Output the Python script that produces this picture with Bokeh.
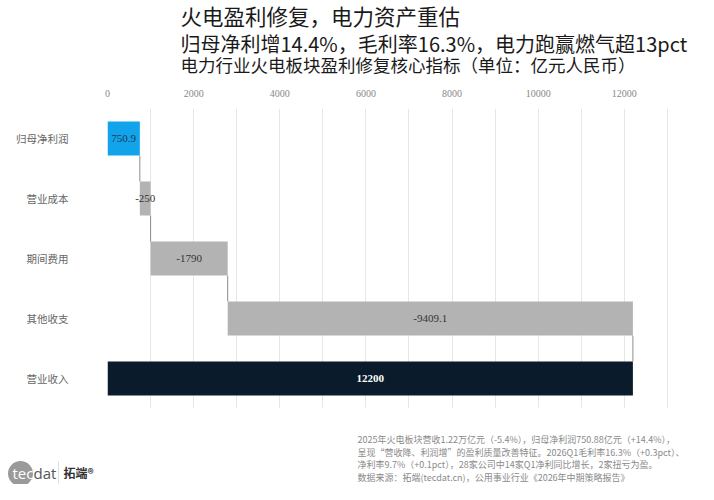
from bokeh.plotting import figure
from bokeh.layouts import column
from bokeh.models import (FactorRange, Range1d, SingleIntervalTicker,
                          FixedTicker, ColumnDataSource)
from bokeh.embed import file_html
from bokeh.resources import INLINE
from bokeh.core.properties import value

# ---------------- data ----------------
categories = ["营业收入", "其他收支", "期间费用", "营业成本", "归母净利润"]  # bottom -> top
amounts = [12200, -9409.1, -1790, -250, 750.9]
bar_labels = ["12200", "-9409.1", "-1790", "-250", "750.9"]
x_ticks = [0, 2000, 4000, 6000, 8000, 10000, 12000]

title = "火电盈利修复，电力资产重估"
subtitle = "归母净利增14.4%，毛利率16.3%，电力跑赢燃气超13pct"
caption = "电力行业火电板块盈利修复核心指标（单位：亿元人民币）"
notes = [
    "2025年火电板块营收1.22万亿元（-5.4%），归母净利润750.88亿元（+14.4%），",
    "呈现“营收降、利润增”的盈利质量改善特征。2026Q1毛利率16.3%（+0.3pct）、",
    "净利率9.7%（+0.1pct），28家公司中14家Q1净利同比增长，2家扭亏为盈。",
    "数据来源：拓端(tecdat.cn)，公用事业行业《2026年中期策略报告》",
]

# ---------------- styles ----------------
W = 698
bar_colors = ["#0a1b2b", "#b3b3b3", "#b3b3b3", "#b3b3b3", "#12a4ea"]
text_colors = ["#ffffff", "#333333", "#333333", "#333333", "#1c3857"]
text_styles = ["bold", "normal", "normal", "normal", "normal"]
CJK = "Noto Sans CJK SC"
SERIF = "Liberation Serif"
BAR_H = 0.57


def blank_fig(h):
    f = figure(width=W, height=h, x_range=Range1d(0, W), y_range=Range1d(h, 0),
               x_axis_type=None, y_axis_type=None, output_backend="svg",
               toolbar_location=None, min_border=0, frame_align=False)
    f.outline_line_color = None
    f.xgrid.visible = False
    f.ygrid.visible = False
    return f


def txt(f, s, x, y, size, color, font=CJK, style="normal", align="left"):
    f.text(x=[x], y=[y], text=[s], text_font=value(font), text_font_size=size,
           text_color=color, text_font_style=style, text_align=align,
           text_baseline="middle")


# ---------------- header ----------------
HEAD_H = 80
head = blank_fig(HEAD_H)
txt(head, title, 180, 15, "21.5px", "#1a1a1a")
txt(head, subtitle, 180, 43, "20px", "#1a1a1a")
txt(head, caption, 180, 64, "17.5px", "#1a1a1a")

# ---------------- waterfall ----------------
lefts, rights, running_after = [], [], []
running = 0.0
n = len(amounts)
for i, a in enumerate(amounts):
    if i == 0 or i == n - 1:
        lo, hi = 0.0, a
        running = a
    else:
        new = running + a
        lo, hi = min(running, new), max(running, new)
        running = new
    lefts.append(lo)
    rights.append(hi)
    running_after.append(running)

src = ColumnDataSource(dict(
    cat=categories, left=lefts, right=rights,
    mid=[(l + r) / 2 for l, r in zip(lefts, rights)],
    label=bar_labels, color=bar_colors, tcolor=text_colors, tstyle=text_styles,
))
conn = ColumnDataSource(dict(
    x=[running_after[i] for i in range(n - 1)],
    y0=[(categories[i], BAR_H / 2) for i in range(n - 1)],
    y1=[(categories[i + 1], -BAR_H / 2) for i in range(n - 1)],
))

MAIN_H = 330
p = figure(width=W, height=MAIN_H,
           y_range=FactorRange(*categories, range_padding=0),
           x_range=Range1d(0, 13050),
           x_axis_location="above",
           output_backend="svg", toolbar_location=None, frame_align=False,
           min_border_left=107, min_border_right=W - 107 - 562,
           min_border_top=28, min_border_bottom=2)
p.outline_line_color = None

p.xgrid.ticker = SingleIntervalTicker(interval=1000)
p.xgrid.grid_line_color = "#e6e6e6"
p.xgrid.grid_line_width = 1
p.ygrid.grid_line_color = None

xa = p.xaxis[0]
xa.ticker = FixedTicker(ticks=x_ticks)
xa.axis_line_color = None
xa.major_tick_line_color = None
xa.minor_tick_line_color = None
xa.major_label_text_font = SERIF
xa.major_label_text_font_size = "10px"
xa.major_label_text_color = "#888888"
xa.major_label_standoff = 6

ya = p.yaxis[0]
ya.axis_line_color = None
ya.major_tick_line_color = None
ya.minor_tick_line_color = None
ya.major_label_text_font = CJK
ya.major_label_text_font_size = "10.5px"
ya.major_label_text_color = "#666666"
ya.major_label_standoff = 33

p.hbar(y="cat", left="left", right="right", height=BAR_H, source=src,
       fill_color="color", line_color=None)
p.segment(x0="x", y0="y0", x1="x", y1="y1", source=conn,
          line_color="#8c8c8c", line_width=1)
p.text(x="mid", y="cat", text="label", source=src,
       text_align="center", text_baseline="middle",
       text_font=value(SERIF), text_font_size="11px",
       text_color="tcolor", text_font_style="tstyle")

# ---------------- footer ----------------
FOOT_H = 484 - HEAD_H - MAIN_H
foot = blank_fig(FOOT_H)
for k, line in enumerate(notes):
    txt(foot, line, 357, 29 + 12.5 * k, "9px", "#8a8a8a")

foot.scatter(x=[20], y=[63], size=25, marker="circle",
             fill_color="#9a9a9a", line_color=None)
txt(foot, "tec", 12, 62, "15px", "#ffffff", font="Open Sans")
txt(foot, "dat", 33, 62, "15px", "#555555", font="Open Sans")
foot.segment(x0=[58], y0=[51], x1=[58], y1=[73], line_color="#dddddd", line_width=1)
txt(foot, "拓端®", 63, 62, "12px", "#333333", style="bold")

layout = column(head, p, foot, spacing=0)
open("out.html", "w").write(file_html(layout, INLINE))
